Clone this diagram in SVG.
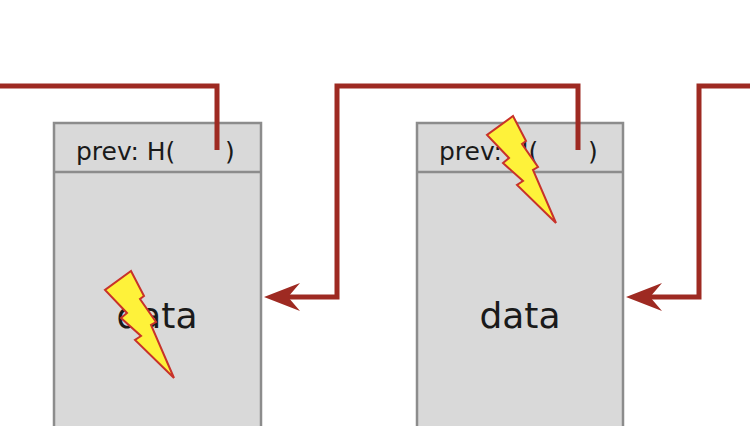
<svg xmlns="http://www.w3.org/2000/svg" width="750" height="426" viewBox="0 0 750 426">
<style>
.box{fill:#d9d9d9;stroke:#8c8c8c;stroke-width:2.5}
.t{font-family:"DejaVu Sans",sans-serif;fill:#1a1a1a}
.h{font-size:25px}
.d{font-size:36px;text-anchor:middle}
.c{fill:none;stroke:#9e2a22;stroke-width:5}
.bolt{fill:#fef23a;stroke:#c8322a;stroke-width:2;stroke-linejoin:miter}
</style>
<defs>
<marker id="ar" viewBox="0 0 14 12" refX="1" refY="6" markerWidth="6" markerHeight="5" orient="auto-start-reverse" markerUnits="userSpaceOnUse">
<path d="M0,6 L14,0 L9,6 L14,12 Z" fill="#9e2a22"/>
</marker>
<polygon id="boltShape" class="bolt" points="131,271 144,296 140,299 156,322 151,325 174,378 135,340 141,336 121,318 127,313 105,290"/>
</defs>
<rect width="750" height="426" fill="#fff"/>
<g id="block1">
<rect class="box" x="54" y="123" width="207" height="320"/>
<line x1="54" y1="172" x2="261" y2="172" stroke="#8c8c8c" stroke-width="2.5"/>
<text class="t h" x="76" y="160">prev: H(</text>
<text class="t h" x="225" y="160">)</text>
<text class="t d" x="157" y="328">data</text>
</g>
<g id="block2">
<rect class="box" x="417" y="123" width="206" height="320"/>
<line x1="417" y1="172" x2="623" y2="172" stroke="#8c8c8c" stroke-width="2.5"/>
<text class="t h" x="439" y="160">prev: H(</text>
<text class="t h" x="588" y="160">)</text>
<text class="t d" x="520" y="328">data</text>
</g>
<g id="connectors">
<polyline class="c" points="0,86 217,86 217,150"/>
<polyline class="c" points="578,150 578,86 337,86 337,297 278,297"/>
<polygon points="264,297 300,283 288,297 300,311" fill="#9e2a22"/>
<polyline class="c" points="750,86 699,86 699,297 640,297"/>
<polygon points="626,297 662,283 650,297 662,311" fill="#9e2a22"/>
</g>
<g id="bolt1"><use href="#boltShape"/></g>
<g id="bolt2"><use href="#boltShape" transform="translate(382,-155)"/></g>
</svg>
